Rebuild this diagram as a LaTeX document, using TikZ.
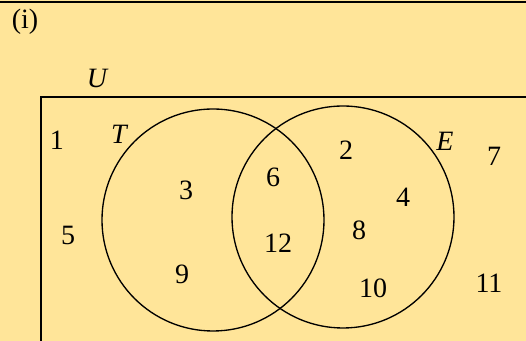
\documentclass[tikz,border=0pt]{standalone}
\usepackage{fontspec}
\setmainfont{Liberation Serif}
\definecolor{VennBg}{HTML}{FFE599}
\tikzset{
  elem/.style={font=\fontsize{21}{24}\selectfont, inner sep=0pt},
  setname/.style={font=\fontsize{21}{24}\selectfont\itshape, inner sep=0pt},
}
\begin{document}
\begin{tikzpicture}[x=0.75pt, y=-0.75pt]
% Page background
\fill[VennBg] (0,0) rectangle (526,341);
\useasboundingbox (0,0) rectangle (526,341);
\draw[line width=2.2pt] (0,2) -- (526,2);
\node[elem] (part) at (25,22) {(i)};

% Universal set
\draw[line width=1.5pt] (526,97) -- (41,97) -- (41,341);
\node[setname] (U) at (97,78) {U};

% Two overlapping sets
\draw[line width=1pt] (213,220) circle (111);
\draw[line width=1pt] (343,217) circle (111);
\node[setname] (T) at (119,134) {T};
\node[setname] (E) at (445,141) {E};

% Elements
\node[elem] (n1) at (57,140) {1};
\node[elem] (n5) at (68,235) {5};
\node[elem] (n3) at (186,190) {3};
\node[elem] (n9) at (182,274) {9};
\node[elem] (n6) at (273,177) {6};
\node[elem] (n12) at (278,243) {12};
\node[elem] (n2) at (346,150) {2};
\node[elem] (n4) at (403,197) {4};
\node[elem] (n8) at (359,230) {8};
\node[elem] (n10) at (373,288) {10};
\node[elem] (n7) at (494,156) {7};
\node[elem] (n11) at (489,283) {11};
\end{tikzpicture}
\end{document}
